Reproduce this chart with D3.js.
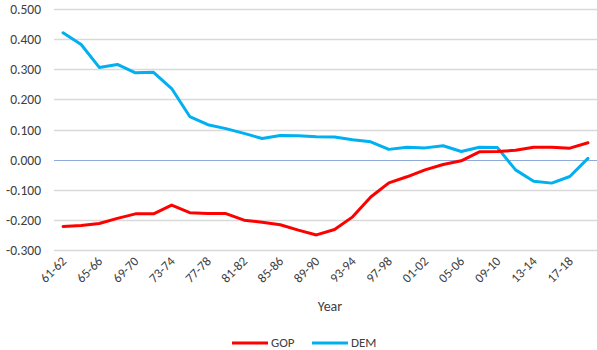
<!DOCTYPE html>
<html>
<head>
<meta charset="utf-8">
<script src="https://cdn.jsdelivr.net/npm/d3@7"></script>
<style>
  body { margin: 0; background: #fff; }
  text { font-family: Calibri, Carlito, "Liberation Sans", "Open Sans", sans-serif; }
</style>
</head>
<body>
<div id="chart"></div>
<script>
    var width = 597
    var height = 350

    // congress sessions
    var years = ["61-62","63-64","65-66","67-68","69-70","71-72","73-74","75-76","77-78","79-80",
                 "81-82","83-84","85-86","87-88","89-90","91-92","93-94","95-96","97-98","99-00",
                 "01-02","03-04","05-06","07-08","09-10","11-12","13-14","15-16","17-18","19-20"]
    var gop = [-0.222,-0.219,-0.212,-0.195,-0.180,-0.180,-0.151,-0.176,-0.179,-0.179,
               -0.201,-0.208,-0.216,-0.234,-0.250,-0.232,-0.190,-0.124,-0.077,-0.057,
               -0.034,-0.016,-0.004,0.026,0.027,0.031,0.041,0.041,0.038,0.056]
    var dem = [0.421,0.382,0.306,0.316,0.288,0.290,0.236,0.143,0.116,0.103,
               0.087,0.070,0.080,0.079,0.076,0.075,0.066,0.059,0.034,0.041,
               0.039,0.046,0.027,0.041,0.040,-0.034,-0.072,-0.078,-0.056,0.004]
    var yTicks = [-0.3,-0.2,-0.1,0,0.1,0.2,0.3,0.4,0.5]
    var tickLabels = ["61-62","65-66","69-70","73-74","77-78","81-82","85-86","89-90",
                      "93-94","97-98","01-02","05-06","09-10","13-14","17-18"]

    var svg = d3.select("#chart").append("svg")
        .attr("width", width)
        .attr("height", height)

    var x = d3.scaleBand()
        .domain(years)
        .range([54, 597])

    var y = d3.scaleLinear()
        .domain([-0.3, 0.5])
        .range([250, 9])

    var cx = function (d, i) { return x(years[i]) + x.bandwidth() / 2 }

    // grid
    svg.append("g")
        .selectAll("line")
        .data(yTicks)
        .enter().append("line")
        .attr("x1", 54)
        .attr("x2", 597)
        .attr("y1", function (d) { return Math.round(y(d)) + 0.5 })
        .attr("y2", function (d) { return Math.round(y(d)) + 0.5 })
        .attr("stroke", function (d) { return d === 0 ? "#8eaadb" : "#d9d9d9" })
        .attr("stroke-width", function (d) { return d === 0 ? 1.2 : 1.5 })

    // y labels
    svg.append("g")
        .selectAll("text")
        .data(yTicks)
        .enter().append("text")
        .attr("x", 41)
        .attr("y", function (d) { return y(d) + 5 })
        .attr("text-anchor", "end")
        .attr("font-size", "13.5px")
        .attr("fill", "#404040")
        .text(function (d) { return d3.format(".3f")(d).replace("−", "-") })

    // x labels
    svg.append("g")
        .selectAll("text")
        .data(tickLabels)
        .enter().append("text")
        .attr("transform", function (d) {
            var px = x(d) + x.bandwidth() / 2 + 4
            return "translate(" + px + ",262) rotate(-45)"
        })
        .attr("text-anchor", "end")
        .attr("font-size", "13px")
        .attr("fill", "#404040")
        .text(function (d) { return d })

    svg.append("text")
        .attr("x", 330)
        .attr("y", 311)
        .attr("text-anchor", "middle")
        .attr("font-size", "14px")
        .attr("fill", "#404040")
        .text("Year")

    var line = d3.line()
        .x(function (d, i) { return cx(d, i) })
        .y(function (d) { return y(d) })

    svg.append("path")
        .datum(dem)
        .attr("d", line)
        .attr("fill", "none")
        .attr("stroke", "#00b0f0")
        .attr("stroke-width", 3)
        .attr("stroke-linejoin", "round")
        .attr("stroke-linecap", "round")

    svg.append("path")
        .datum(gop)
        .attr("d", line)
        .attr("fill", "none")
        .attr("stroke", "#ff0000")
        .attr("stroke-width", 3)
        .attr("stroke-linejoin", "round")
        .attr("stroke-linecap", "round")

    // legend
    var legend = [["GOP", "#ff0000", 232], ["DEM", "#00b0f0", 312]]
    var lg = svg.append("g").selectAll("g")
        .data(legend)
        .enter().append("g")
    lg.append("line")
        .attr("x1", function (d) { return d[2] })
        .attr("x2", function (d) { return d[2] + 36 })
        .attr("y1", 343)
        .attr("y2", 343)
        .attr("stroke", function (d) { return d[1] })
        .attr("stroke-width", 3)
    lg.append("text")
        .attr("x", function (d) { return d[2] + 39 })
        .attr("y", 347)
        .attr("font-size", "13px")
        .attr("fill", "#404040")
        .text(function (d) { return d[0] })
</script>
</body>
</html>
